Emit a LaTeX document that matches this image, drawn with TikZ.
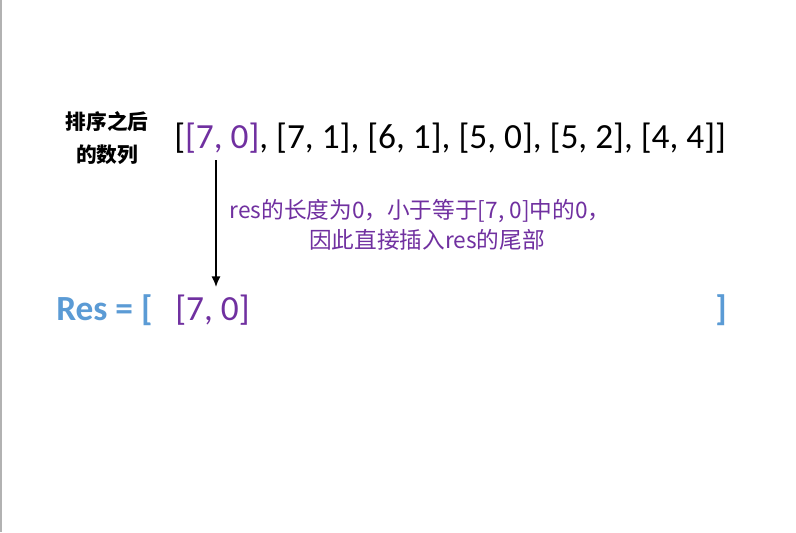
\documentclass[tikz,border=0pt]{standalone}
\usepackage{fontspec}
\usetikzlibrary{arrows.meta}
\setmainfont{Carlito}
\newfontfamily\cjk{Noto Sans CJK SC}
\definecolor{pur}{HTML}{7030A0}
\definecolor{blu}{HTML}{5B9BD5}
\begin{document}
\begin{tikzpicture}[x=0.75pt,y=-0.75pt,
  lab/.style={inner sep=0pt,font=\cjk\bfseries\fontsize{15.5}{20}\selectfont},
  big/.style={inner sep=0pt,anchor=west,font=\fontsize{26.5}{30}\selectfont},
  note/.style={inner sep=0pt,text=pur,font=\cjk\fontsize{17}{21}\selectfont}]
\useasboundingbox (0,0) rectangle (796,532);
\fill[white] (0,0) rectangle (796,532);
\draw[gray!60,line width=1pt] (1,0) -- (1,532);
\node[lab] (t1) at (107,122) {排序之后};
\node[lab] (t2) at (107,155) {的数列};
\node[big] (lst) at (174,138) {[\textcolor{pur}{[7, 0]}, [7, 1], [6, 1], [5, 0], [5, 2], [4, 4]]};
\node[big,font=\bfseries\fontsize{26.5}{30}\selectfont,text=blu] (res) at (56,310) {Res = [};
\node[big,text=pur] (r70) at (175,310) {[7, 0]};
\node[big,anchor=east,font=\bfseries\fontsize{26.5}{30}\selectfont,text=blu] (rb) at (727,310) {]};
\coordinate (a0) at (216,160);
\coordinate (a1) at (216,287);
\draw[-{Latex[length=8pt,width=7pt]},line width=1.2pt] (a0) -- (a1);
\node[note] (n1) at (420,211) {res的长度为0，小于等于[7, 0]中的0，};
\node[note] (n2) at (427,240) {因此直接插入res的尾部};
\end{tikzpicture}
\end{document}
